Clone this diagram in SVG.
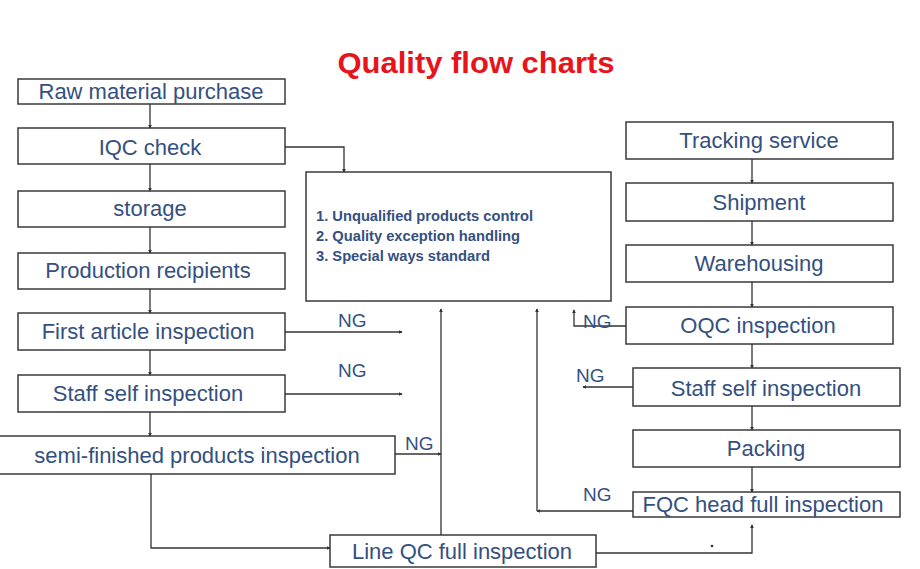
<svg xmlns="http://www.w3.org/2000/svg" width="920" height="569" viewBox="0 0 920 569">
<style>
.box{fill:#fff;stroke:#3a3a3a;stroke-width:1.5}
.t{font-family:"Liberation Sans",Arial,sans-serif;font-size:22px;fill:#34507f;text-anchor:middle}
.m{font-family:"Liberation Sans",Arial,sans-serif;font-size:14.7px;font-weight:bold;fill:#34507f}
.ng{font-family:"Liberation Sans",Arial,sans-serif;font-size:19px;fill:#34507f}
.c{fill:none;stroke:#333;stroke-width:1.3}
</style>
<defs>
<marker id="a" viewBox="0 0 6 6" refX="5" refY="3" markerWidth="4" markerHeight="4" orient="auto" markerUnits="userSpaceOnUse">
<path d="M0,0 L6,3 L0,6 z" fill="#333"/>
</marker>
</defs>
<rect width="920" height="569" fill="#fff"/>
<text x="476" y="73" font-family="Liberation Sans,Arial,sans-serif" font-size="30" font-weight="bold" fill="#e8141b" text-anchor="middle" textLength="277" lengthAdjust="spacingAndGlyphs">Quality flow charts</text>

<g id="raw"><rect class="box" x="18" y="79" width="267" height="25"/><text class="t" x="151" y="99">Raw material purchase</text></g>
<g id="iqc"><rect class="box" x="18" y="128" width="267" height="36"/><text class="t" x="150" y="155">IQC check</text></g>
<g id="storage"><rect class="box" x="18" y="191" width="267" height="36"/><text class="t" x="150" y="216">storage</text></g>
<g id="prod"><rect class="box" x="18" y="253" width="267" height="36"/><text class="t" x="148" y="278">Production recipients</text></g>
<g id="first"><rect class="box" x="18" y="313" width="267" height="37"/><text class="t" x="148" y="339">First article inspection</text></g>
<g id="staff1"><rect class="box" x="18" y="375" width="267" height="37"/><text class="t" x="148" y="401">Staff self inspection</text></g>
<g id="semi"><rect class="box" x="-1" y="436" width="396" height="38"/><text class="t" x="197" y="463">semi-finished products inspection</text></g>
<g id="lineqc"><rect class="box" x="330" y="535" width="266" height="32"/><text class="t" x="462" y="559">Line QC full inspection</text></g>
<g id="center"><rect class="box" x="306" y="172" width="305" height="129"/>
<text class="m" x="316" y="221">1. Unqualified products control</text>
<text class="m" x="316" y="241">2. Quality exception handling</text>
<text class="m" x="316" y="261">3. Special ways standard</text></g>
<g id="tracking"><rect class="box" x="626" y="122" width="267" height="37"/><text class="t" x="759" y="148">Tracking service</text></g>
<g id="shipment"><rect class="box" x="626" y="183" width="267" height="38"/><text class="t" x="759" y="210">Shipment</text></g>
<g id="warehousing"><rect class="box" x="626" y="245" width="267" height="37"/><text class="t" x="759" y="271">Warehousing</text></g>
<g id="oqc"><rect class="box" x="626" y="307" width="267" height="37"/><text class="t" x="758" y="333">OQC inspection</text></g>
<g id="staff2"><rect class="box" x="633" y="368" width="267" height="38"/><text class="t" x="766" y="396">Staff self inspection</text></g>
<g id="packing"><rect class="box" x="633" y="430" width="267" height="37"/><text class="t" x="766" y="456">Packing</text></g>
<g id="fqc"><rect class="box" x="633" y="492" width="267" height="25"/><text class="t" x="763" y="512">FQC head full inspection</text></g>

<g id="connectors">
<line class="c" x1="150" y1="104" x2="150" y2="128" marker-end="url(#a)"/>
<line class="c" x1="150" y1="164" x2="150" y2="191" marker-end="url(#a)"/>
<line class="c" x1="150" y1="227" x2="150" y2="253" marker-end="url(#a)"/>
<line class="c" x1="150" y1="289" x2="150" y2="313" marker-end="url(#a)"/>
<line class="c" x1="150" y1="350" x2="150" y2="375" marker-end="url(#a)"/>
<line class="c" x1="150" y1="412" x2="150" y2="436" marker-end="url(#a)"/>
<polyline class="c" points="151,474 151,548 330,548" marker-end="url(#a)"/>
<polyline class="c" points="285,147 344,147 344,172" marker-end="url(#a)"/>
<line class="c" x1="285" y1="332" x2="402" y2="332" marker-end="url(#a)"/>
<line class="c" x1="285" y1="394" x2="402" y2="394" marker-end="url(#a)"/>
<line class="c" x1="395" y1="454" x2="441" y2="454" marker-end="url(#a)"/>
<line class="c" x1="441" y1="535" x2="441" y2="309" marker-end="url(#a)"/>
<line class="c" x1="633" y1="511" x2="537" y2="511" marker-end="url(#a)"/>
<line class="c" x1="537" y1="511" x2="537" y2="309" marker-end="url(#a)"/>
<polyline class="c" points="626,326 574,326 574,310" marker-end="url(#a)"/>
<line class="c" x1="633" y1="387" x2="583" y2="387" marker-end="url(#a)"/>
<line class="c" x1="752" y1="159" x2="752" y2="183" marker-end="url(#a)"/>
<line class="c" x1="752" y1="221" x2="752" y2="245" marker-end="url(#a)"/>
<line class="c" x1="752" y1="282" x2="752" y2="307" marker-end="url(#a)"/>
<line class="c" x1="752" y1="344" x2="752" y2="368" marker-end="url(#a)"/>
<line class="c" x1="752" y1="406" x2="752" y2="430" marker-end="url(#a)"/>
<line class="c" x1="752" y1="467" x2="752" y2="492" marker-end="url(#a)"/>
<polyline class="c" points="596,553 752,553 752,525" marker-end="url(#a)"/>
<circle cx="712" cy="546" r="1.3" fill="#333"/>
<text class="ng" x="338" y="327">NG</text>
<text class="ng" x="338" y="377">NG</text>
<text class="ng" x="405" y="450">NG</text>
<text class="ng" x="583" y="328">NG</text>
<text class="ng" x="576" y="382">NG</text>
<text class="ng" x="583" y="501">NG</text>
</g>
</svg>
